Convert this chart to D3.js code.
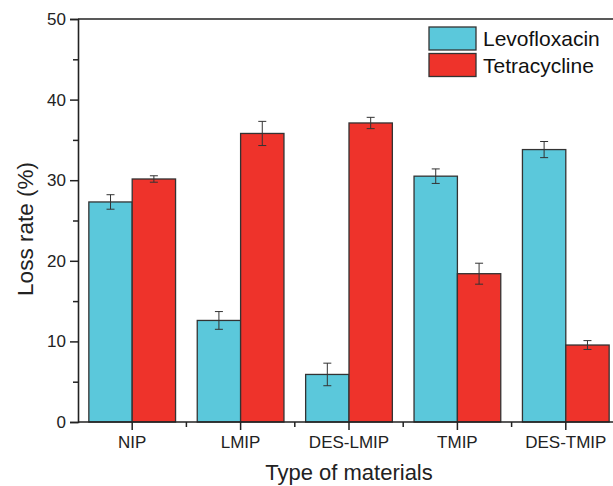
<!DOCTYPE html>
<html>
<head>
<meta charset="utf-8">
<script src="https://cdn.jsdelivr.net/npm/d3@7"></script>
<style>
  body { margin: 0; background: #fff; }
  svg { display: block; font-family: "Liberation Sans", Arial, sans-serif; }
</style>
</head>
<body>
<svg id="chart"></svg>
<script>
// data
var categories = ["NIP", "LMIP", "DES-LMIP", "TMIP", "DES-TMIP"];
var seriesNames = ["Levofloxacin", "Tetracycline"];
var levoValues = [27.3, 12.6, 5.9, 30.5, 33.8];
var levoErrors = [0.9, 1.1, 1.4, 0.9, 1.0];
var tetraValues = [30.15, 35.8, 37.1, 18.4, 9.55];
var tetraErrors = [0.4, 1.5, 0.7, 1.3, 0.55];
var yTicks = [0, 10, 20, 30, 40, 50];
var colors = ["#5bc8db", "#ee332b"];

var width = 613, height = 486;
var margin = { top: 19, left: 78, bottom: 64, right: -7 };

var svg = d3.select("#chart")
  .attr("width", width)
  .attr("height", height);

var x = d3.scaleBand()
  .domain(categories)
  .range([margin.left, width - margin.right])
  .paddingInner(0.2)
  .paddingOuter(0.1);

var x1 = d3.scaleBand()
  .domain(seriesNames)
  .range([0, x.bandwidth()]);

var y = d3.scaleLinear()
  .domain([0, 50])
  .range([height - margin.bottom, margin.top]);

var rows = categories.map(function(c, i) {
  return [
    { cat: c, s: seriesNames[0], v: levoValues[i], e: levoErrors[i], c: colors[0] },
    { cat: c, s: seriesNames[1], v: tetraValues[i], e: tetraErrors[i], c: colors[1] }
  ];
});

var groups = svg.append("g")
  .selectAll("g")
  .data(rows)
  .join("g")
  .attr("transform", function(d) { return "translate(" + x(d[0].cat) + ",0)"; });

groups.selectAll("rect")
  .data(function(d) { return d; })
  .join("rect")
  .attr("x", function(d) { return x1(d.s); })
  .attr("y", function(d) { return y(d.v); })
  .attr("width", x1.bandwidth())
  .attr("height", function(d) { return y(0) - y(d.v); })
  .attr("fill", function(d) { return d.c; })
  .attr("stroke", "#333")
  .attr("stroke-width", 1.3);

// error bars
var err = groups.selectAll("g.err")
  .data(function(d) { return d; })
  .join("g")
  .attr("class", "err")
  .attr("stroke", "#333")
  .attr("stroke-width", 1);

err.append("line")
  .attr("x1", function(d) { return x1(d.s) + x1.bandwidth() / 2; })
  .attr("x2", function(d) { return x1(d.s) + x1.bandwidth() / 2; })
  .attr("y1", function(d) { return y(d.v + d.e); })
  .attr("y2", function(d) { return y(d.v - d.e); });

[1, -1].forEach(function(sign) {
  err.append("line")
    .attr("x1", function(d) { return x1(d.s) + x1.bandwidth() / 2 - 4; })
    .attr("x2", function(d) { return x1(d.s) + x1.bandwidth() / 2 + 4; })
    .attr("y1", function(d) { return y(d.v + sign * d.e); })
    .attr("y2", function(d) { return y(d.v + sign * d.e); });
});

// y axis
var yAxis = svg.append("g")
  .attr("transform", "translate(" + margin.left + ",0)")
  .call(d3.axisLeft(y).tickValues(yTicks).tickSize(8).tickPadding(4));

svg.append("g")
  .attr("transform", "translate(" + margin.left + ",0)")
  .call(d3.axisLeft(y).tickValues([5, 15, 25, 35, 45]).tickSize(5).tickFormat(""))
  .select(".domain").remove();

// x axis
var xAxis = svg.append("g")
  .attr("transform", "translate(0," + y(0) + ")")
  .call(d3.axisBottom(x).tickSize(8).tickPadding(6).tickSizeOuter(0));

var step = x.step();
var minor = categories.slice(0, -1).map(function(c) { return x(c) + x.bandwidth() / 2 + step / 2; });
svg.append("g")
  .selectAll("line")
  .data(minor)
  .join("line")
  .attr("x1", function(d) { return d; })
  .attr("x2", function(d) { return d; })
  .attr("y1", y(0))
  .attr("y2", y(0) + 5)
  .attr("stroke", "#222")
  .attr("stroke-width", 1.5);

svg.selectAll(".tick line").attr("stroke", "#222").attr("stroke-width", 1.5);
svg.selectAll(".domain").attr("stroke", "#222").attr("stroke-width", 1.6);
yAxis.selectAll("text").attr("font-size", 17).attr("fill", "#222");
xAxis.selectAll("text").attr("font-size", 17).attr("fill", "#222");
xAxis.select(".domain").attr("d", "M" + margin.left + ",0H" + (width - margin.right));

// top frame line
svg.append("line")
  .attr("x1", margin.left)
  .attr("x2", width)
  .attr("y1", y(50))
  .attr("y2", y(50))
  .attr("stroke", "#222")
  .attr("stroke-width", 1.6);

// titles
svg.append("text")
  .attr("x", (margin.left + width - margin.right) / 2)
  .attr("y", 480)
  .attr("text-anchor", "middle")
  .attr("font-size", 22)
  .attr("fill", "#222")
  .text("Type of materials");

svg.append("text")
  .attr("transform", "translate(33,229) rotate(-90)")
  .attr("text-anchor", "middle")
  .attr("font-size", 22.5)
  .attr("fill", "#222")
  .text("Loss rate (%)");

// legend
var legend = svg.append("g")
  .selectAll("g")
  .data(seriesNames)
  .join("g")
  .attr("transform", function(d, i) { return "translate(429," + (27 + i * 26.5) + ")"; });

legend.append("rect")
  .attr("width", 47)
  .attr("height", 23)
  .attr("fill", function(d, i) { return colors[i]; })
  .attr("stroke", "#333")
  .attr("stroke-width", 1.3);

legend.append("text")
  .attr("x", 54)
  .attr("y", 19)
  .attr("font-size", 21)
  .attr("fill", "#111")
  .text(function(d) { return d; });
</script>
</body>
</html>
